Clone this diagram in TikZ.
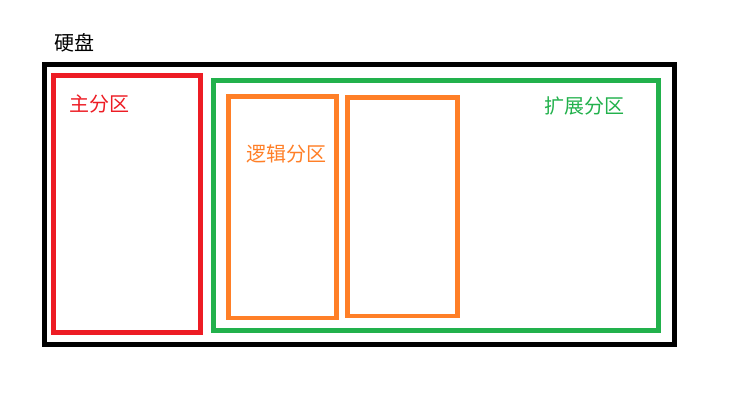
\documentclass[tikz,border=0pt]{standalone}
\usepackage{fontspec}
\newfontfamily\cjk{Noto Sans CJK SC}
\definecolor{pred}{RGB}{237,28,36}
\definecolor{pgreen}{RGB}{34,177,76}
\definecolor{porange}{RGB}{255,127,39}

\begin{document}
\begin{tikzpicture}[x=1bp, y=-1bp,
    part/.style={line width=4.5bp},
    lbl/.style={font=\cjk\fontsize{20bp}{20bp}\selectfont, inner sep=0pt}]

      \useasboundingbox (0,0) rectangle (755,416);
      % disk
      \coordinate (D1) at (44,64);
      \coordinate (D2) at (674,344);
      \draw[line width=5bp] (D1) rectangle (D2);
      \node[lbl] (disk) at (74.5,42.5) {硬盘};
      % primary
      \coordinate (P1) at (53.5,75.5);
      \coordinate (P2) at (200.5,332.5);
      \draw[part, color=pred] (P1) rectangle (P2);
      \node[lbl, text=pred] (primary) at (99.5,103.5) {主分区};
      % extended
      \coordinate (E1) at (213.5,80.5);
      \coordinate (E2) at (658.5,330.5);
      \draw[part, color=pgreen] (E1) rectangle (E2);
      \node[lbl, text=pgreen] (extended) at (584.5,106) {扩展分区};
      % logical
      \coordinate (L1) at (228.5,96.5);
      \coordinate (L2) at (336.5,318);
      \draw[part, color=porange] (L1) rectangle (L2);
      \coordinate (M1) at (347.5,97.5);
      \coordinate (M2) at (457.5,316);
      \draw[part, color=porange] (M1) rectangle (M2);
      \node[lbl, text=porange] (logical) at (286.7,153.5) {逻辑分区};
    \end{tikzpicture}
\end{document}
